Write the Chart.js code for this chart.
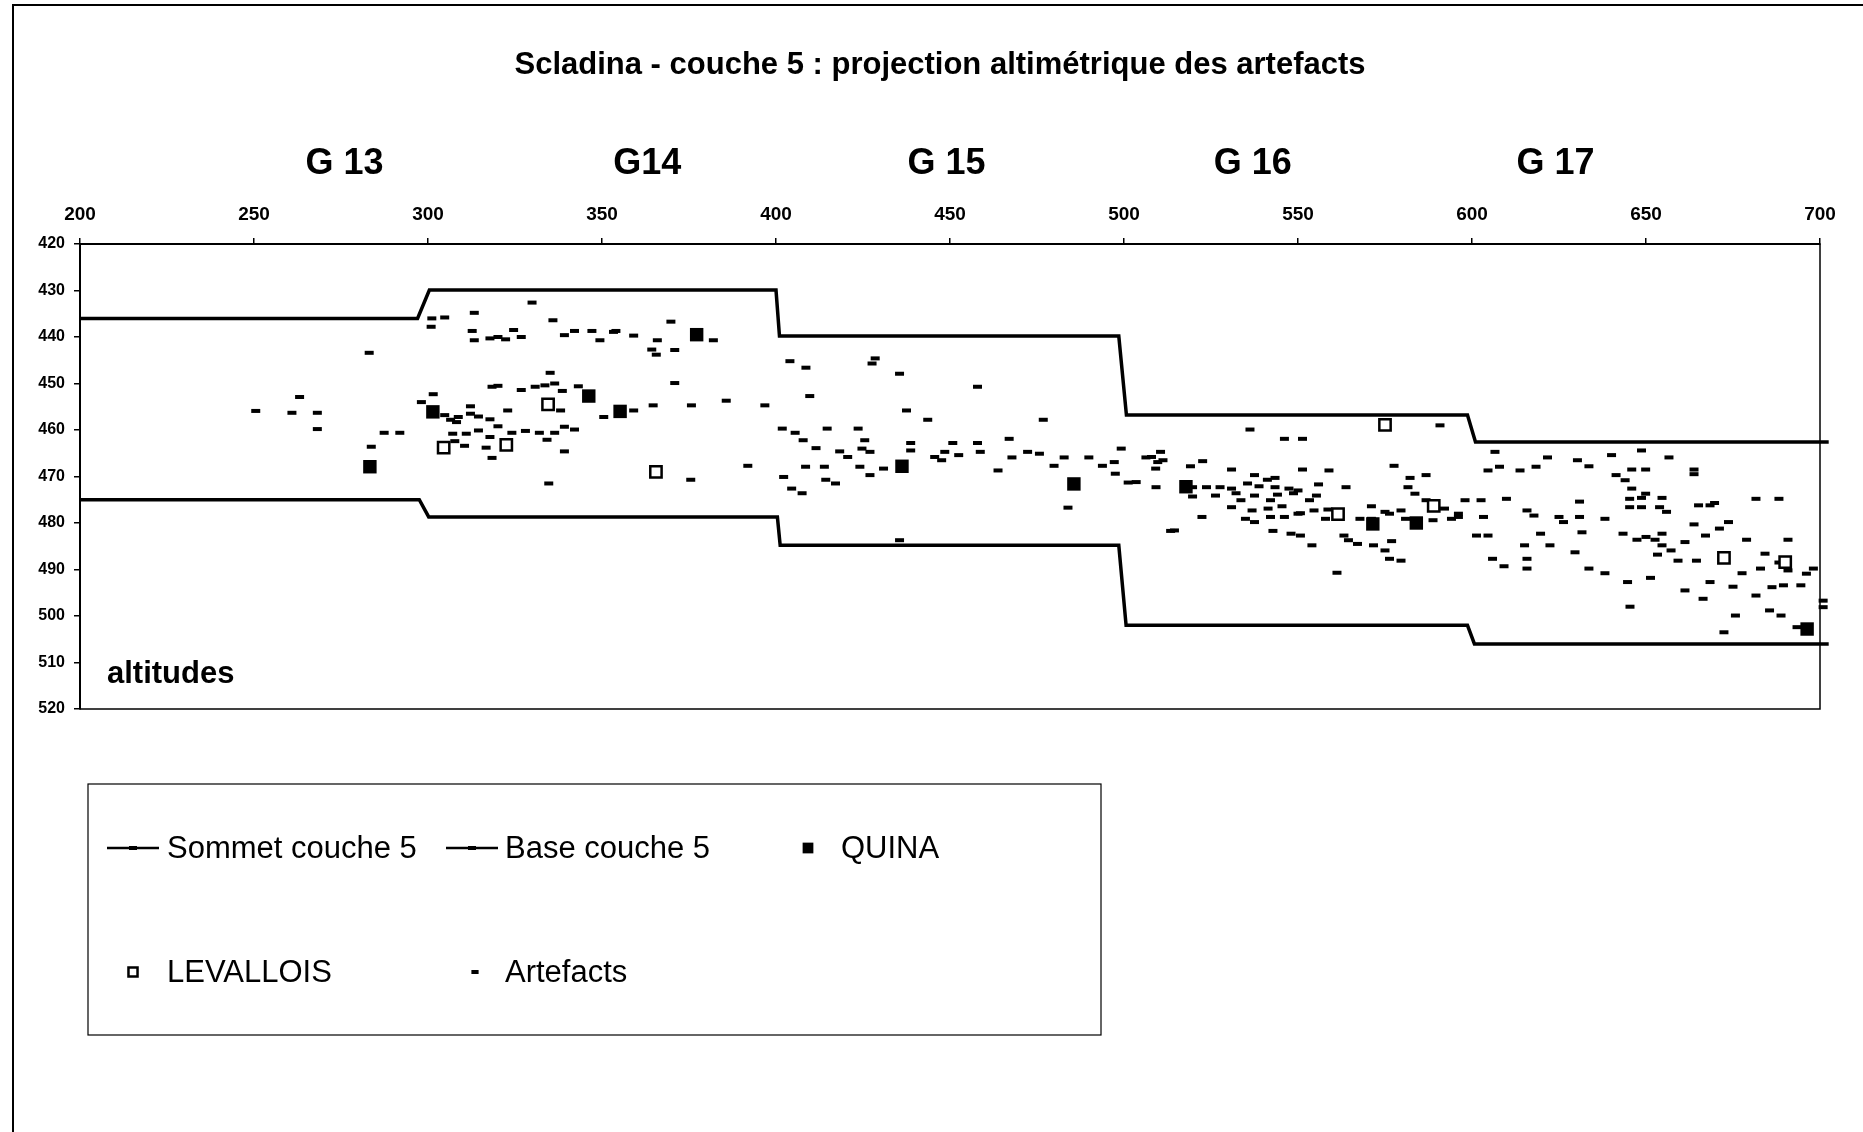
<!DOCTYPE html>
<html>
<head>
<meta charset="utf-8">
<script src="https://cdn.jsdelivr.net/npm/chart.js@4"></script>
<style>
  html, body { margin: 0; padding: 0; background: #fff; }
</style>
</head>
<body>
<canvas id="alt" width="1863" height="1132"></canvas>
<script>
// Scladina, couche 5 : altitudes projected along the X axis
var titre = 'Scladina - couche 5 : projection altimétrique des artefacts';
var carres = ['G 13', 'G14', 'G 15', 'G 16', 'G 17'];
var carresX = [276, 363, 449, 537, 624];
var xTicks = [200, 250, 300, 350, 400, 450, 500, 550, 600, 650, 700];
var yTicks = [420, 430, 440, 450, 460, 470, 480, 490, 500, 510, 520];

// limits of the layer [x, altitude]
var sommet = [[200, 436], [297, 436], [300.4, 429.9], [400, 429.9], [401, 439.8], [498.5, 439.8],
  [500.7, 456.8], [598.7, 456.8], [601, 462.6], [702.5, 462.6]];
var base = [[200, 475], [297.5, 475], [300.2, 478.7], [400.4, 478.7], [401.2, 484.8], [498.5, 484.8],
  [500.6, 502], [598.7, 502], [600.7, 506], [702.5, 506]];

var quina = [[283.3, 467.9], [301.4, 456.1], [346.2, 452.7], [355.2, 456.0], [377.2, 439.5], [436.2, 467.8],
  [485.6, 471.6], [517.8, 472.2], [571.5, 480.2], [584.0, 480.0], [696.3, 502.8]];
var levallois = [[334.5, 454.5], [304.5, 463.8], [322.5, 463.2], [365.5, 469.0], [575.0, 458.9],
  [561.5, 478.1], [589.0, 476.3], [672.4, 487.5], [690.0, 488.4]];
var artefacts = [
  [283.1, 443.4], [250.5, 455.9], [260.9, 456.3], [263.1, 452.9], [268.2, 456.3], [268.2, 459.8], [283.7, 463.6],
  [287.4, 460.6], [291.9, 460.6], [301.1, 436.0], [304.8, 435.8], [300.9, 437.8], [313.3, 434.8], [312.7, 438.7],
  [313.3, 440.7], [317.8, 440.3], [320.1, 440.0], [322.3, 440.5], [324.6, 438.5], [326.8, 440.0], [329.9, 432.6],
  [335.9, 436.4], [339.2, 439.6], [342.1, 438.7], [347.1, 438.7], [349.4, 440.7], [353.3, 438.9],
  [301.5, 452.3], [298.1, 454.0], [304.8, 456.8], [306.5, 457.8], [308.7, 457.2], [308.2, 458.3], [312.2, 454.9],
  [312.2, 456.5], [314.5, 457.1], [307.1, 460.8], [311.0, 460.8], [314.5, 460.1], [307.7, 462.4], [310.5, 463.4],
  [318.4, 450.7], [320.1, 450.5], [317.8, 457.7], [322.9, 455.8], [326.8, 451.4], [330.8, 450.7], [333.6, 450.4],
  [336.4, 450.0], [338.6, 451.6], [335.1, 447.7], [343.2, 450.6], [320.1, 459.2], [324.1, 460.6], [328.0, 460.2],
  [332.0, 460.6], [336.4, 460.6], [339.2, 459.3], [342.1, 459.9], [334.2, 462.1], [317.8, 461.5], [316.7, 463.8],
  [318.4, 466.0], [339.2, 464.6], [334.7, 471.5], [338.1, 455.8], [350.5, 457.2],
  [354.0, 438.7], [359.1, 439.7], [365.9, 440.7], [364.3, 442.7], [365.6, 443.8], [369.8, 436.7], [370.9, 442.8],
  [382.0, 440.7], [370.9, 449.9], [359.1, 455.8], [364.7, 454.7], [375.7, 454.7], [385.7, 453.7], [396.8, 454.7],
  [375.5, 470.7], [391.9, 467.7], [404.0, 445.2], [408.6, 446.6], [409.7, 452.7], [428.5, 444.6], [427.6, 445.7],
  [435.5, 447.9], [457.9, 450.7], [437.5, 455.8], [443.6, 457.8], [476.8, 457.8], [401.8, 459.7], [405.5, 460.6],
  [407.8, 462.2], [411.5, 463.9], [414.7, 459.7], [423.6, 459.7], [425.5, 462.2], [424.7, 464.0], [427.0, 464.7],
  [418.3, 464.6], [420.6, 465.8], [438.7, 462.8], [438.7, 464.4], [450.8, 462.8], [448.5, 464.7], [452.5, 465.4],
  [445.6, 465.8], [447.6, 466.5], [457.9, 462.8], [458.7, 464.7], [467.0, 461.9], [467.8, 465.9], [472.3, 464.7],
  [475.7, 465.1], [482.8, 465.9], [489.9, 465.9], [479.9, 467.7], [463.8, 468.7], [493.8, 467.7], [497.2, 466.9],
  [497.5, 469.4], [499.2, 464.0], [503.5, 471.2], [506.3, 465.9], [509.7, 466.9], [509.1, 468.3], [501.2, 471.3],
  [483.9, 476.7], [513.4, 481.7], [408.5, 467.9], [413.9, 467.9], [424.1, 467.9], [427.0, 469.7], [430.9, 468.3],
  [414.3, 470.7], [417.1, 471.5], [402.2, 470.1], [404.5, 472.6], [407.5, 473.6], [435.5, 483.7],
  [536.2, 459.9], [546.1, 461.9], [551.3, 461.9], [590.8, 459.0], [510.5, 464.7], [511.2, 466.5], [519.1, 467.8],
  [522.6, 466.7], [507.9, 465.8], [530.9, 468.5], [537.5, 469.7], [541.2, 470.7], [543.4, 470.3], [551.3, 468.5],
  [558.9, 468.7], [577.6, 467.7], [582.2, 470.3], [586.8, 469.7], [509.2, 472.3], [519.7, 472.3], [523.7, 472.3],
  [527.6, 472.3], [530.9, 472.6], [535.5, 471.5], [538.8, 472.1], [543.4, 472.3], [547.4, 472.6], [550.0, 473.0],
  [555.9, 471.7], [563.8, 472.3], [581.6, 472.3], [519.7, 474.3], [526.3, 474.1], [532.2, 473.6], [533.6, 475.1],
  [537.5, 474.1], [542.1, 475.1], [544.1, 473.9], [548.7, 473.6], [553.3, 475.1], [555.3, 474.1], [583.6, 473.7],
  [530.9, 476.6], [536.8, 477.3], [541.4, 476.9], [545.4, 476.4], [550.7, 477.9], [554.6, 477.3], [558.6, 477.1],
  [571.1, 476.4], [575.0, 477.6], [579.6, 477.3], [586.8, 475.1], [592.1, 476.9], [596.1, 478.0], [598.0, 475.1],
  [602.6, 475.1], [609.9, 474.8], [522.4, 478.7], [534.9, 479.1], [537.5, 479.8], [542.1, 478.7], [546.1, 478.7],
  [550.0, 478.0], [557.9, 479.1], [567.8, 479.1], [571.1, 479.1], [576.3, 478.0], [580.9, 479.1], [588.8, 479.4],
  [594.1, 479.1], [596.1, 478.7], [603.3, 478.7], [514.5, 481.6], [542.8, 481.7], [548.0, 482.3], [550.7, 482.7],
  [554.0, 484.8], [563.2, 482.7], [564.5, 483.7], [567.1, 484.5], [571.7, 484.8], [575.0, 485.9], [576.9, 483.9],
  [576.3, 487.7], [579.6, 488.1], [561.2, 490.7], [601.3, 482.7], [604.6, 482.7], [605.9, 487.7], [609.2, 489.3],
  [615.8, 487.7], [615.8, 489.8], [615.1, 484.8], [615.8, 477.3], [617.8, 478.4], [619.7, 482.3], [622.4, 484.8],
  [625.0, 478.7], [626.3, 479.8], [630.9, 478.7], [631.6, 482.0], [629.6, 486.3], [630.9, 475.4], [638.2, 479.1],
  [633.6, 489.8], [638.2, 490.8], [644.7, 492.7], [651.3, 491.8], [645.4, 498.0], [643.4, 482.3], [647.4, 483.6],
  [650.0, 483.0], [652.6, 483.6], [654.6, 484.8], [653.3, 486.8], [657.2, 485.9], [654.6, 482.3], [659.2, 488.1],
  [661.2, 484.1], [663.8, 480.3], [664.5, 488.1], [667.1, 482.7], [671.1, 481.2], [673.7, 479.8], [668.4, 476.2],
  [677.6, 490.8], [675.0, 493.7], [668.4, 492.7], [666.4, 496.3], [661.2, 494.5], [678.9, 483.6], [682.9, 489.8],
  [684.2, 486.6], [690.8, 483.6], [688.2, 488.5], [690.8, 490.2], [696.1, 490.9], [698.1, 489.8], [686.2, 493.8],
  [689.5, 493.4], [694.5, 493.4], [681.6, 495.6], [693.4, 502.4], [672.4, 503.5], [675.7, 499.9], [685.5, 498.8],
  [688.8, 499.9], [700.9, 496.7], [700.9, 498.1], [606.6, 464.7], [604.6, 468.7], [607.9, 467.9], [613.8, 468.7],
  [618.4, 467.9], [621.7, 465.9], [630.3, 466.5], [633.6, 467.8], [640.1, 465.4], [648.7, 464.4], [656.6, 465.9],
  [641.4, 469.7], [644.0, 470.8], [645.9, 468.5], [649.9, 468.5], [645.9, 472.6], [649.9, 473.7], [645.3, 474.8],
  [648.7, 474.6], [654.6, 474.6], [645.3, 476.6], [648.7, 476.6], [653.9, 476.6], [655.9, 477.6], [669.7, 475.7],
  [665.1, 476.2], [681.6, 474.8], [688.2, 474.8], [663.8, 468.5], [663.8, 469.5]
];

function pts(arr) {
  return arr.map(function (p) { return { x: p[0], y: p[1] }; });
}

var FONT = '"Liberation Sans", Arial, sans-serif';
var NARROW = '"Liberation Sans Narrow", "Liberation Sans", Arial, sans-serif';

// frame, title, square names, inner label and the boxed legend
var decor = {
  id: 'decor',
  beforeDraw: function (chart) {
    var c = chart.ctx;
    c.save();
    c.fillStyle = '#fff';
    c.fillRect(0, 0, chart.width, chart.height);
    c.restore();
  },
  afterDraw: function (chart) {
    var c = chart.ctx, a = chart.chartArea, xs = chart.scales.x;
    c.save();
    c.strokeStyle = '#000';
    c.lineWidth = 2;
    c.strokeRect(13, 5, 1860, 1140);
    c.lineWidth = 1.5;
    c.strokeRect(a.left, a.top, a.right - a.left, a.bottom - a.top);

    c.fillStyle = '#000';
    c.textAlign = 'center';
    c.textBaseline = 'middle';
    c.font = 'bold 31px ' + FONT;
    c.fillText(titre, 940, 65);
    c.font = 'bold 36px ' + FONT;
    carres.forEach(function (t, i) {
      c.fillText(t, xs.getPixelForValue(carresX[i]), 164);
    });
    c.textAlign = 'left';
    c.font = 'bold 31px ' + FONT;
    c.fillText('altitudes', a.left + 27, a.bottom - 35);

    // legend box
    c.lineWidth = 1.2;
    c.strokeRect(88, 784, 1013, 251);
    var ds = chart.data.datasets;
    var rows = [
      { i: 0, x: 107, y: 848, tx: 167 },
      { i: 1, x: 446, y: 848, tx: 505 },
      { i: 2, x: 808, y: 848, tx: 841 },
      { i: 3, x: 133, y: 972, tx: 167 },
      { i: 4, x: 475, y: 972, tx: 505 }
    ];
    c.font = '31px ' + NARROW;
    rows.forEach(function (r) {
      var d = ds[r.i];
      if (d.showLine) {
        c.strokeStyle = d.borderColor;
        c.lineWidth = 2.5;
        c.beginPath();
        c.moveTo(r.x, r.y);
        c.lineTo(r.x + 52, r.y);
        c.stroke();
        c.lineWidth = 4;
        c.beginPath();
        c.moveTo(r.x + 22, r.y);
        c.lineTo(r.x + 30, r.y);
        c.stroke();
      } else {
        c.strokeStyle = d.borderColor;
        c.fillStyle = d.backgroundColor;
        c.lineWidth = d.borderWidth;
        Chart.helpers.drawPoint(c, {
          pointStyle: d.pointStyle, radius: d.pointRadius * 0.8, borderWidth: d.borderWidth, rotation: 0
        }, r.x, r.y);
      }
      c.fillStyle = '#000';
      c.fillText(d.label, r.tx, r.y + 1);
    });
    c.restore();
  }
};

new Chart(document.getElementById('alt'), {
  type: 'scatter',
  data: {
    datasets: [
      { label: 'Sommet couche 5', data: pts(sommet), showLine: true, borderColor: '#000', borderWidth: 3.5,
        pointRadius: 0, tension: 0, clip: false },
      { label: 'Base couche 5', data: pts(base), showLine: true, borderColor: '#000', borderWidth: 3.5,
        pointRadius: 0, tension: 0, clip: false },
      { label: 'QUINA', data: pts(quina), pointStyle: 'rect', pointRadius: 9.5, borderWidth: 0,
        backgroundColor: '#000', borderColor: '#000' },
      { label: 'LEVALLOIS', data: pts(levallois), pointStyle: 'rect', pointRadius: 8, borderWidth: 2.5,
        backgroundColor: '#fff', borderColor: '#000' },
      { label: 'Artefacts', data: pts(artefacts), pointStyle: 'line', pointRadius: 4.5, borderWidth: 4,
        backgroundColor: '#000', borderColor: '#000', clip: false }
    ]
  },
  options: {
    responsive: false,
    animation: false,
    layout: { padding: { left: 20, right: 43, top: 200, bottom: 423 } },
    plugins: { legend: { display: false }, tooltip: { enabled: false } },
    scales: {
      x: {
        type: 'linear', position: 'top', min: 200, max: 700,
        afterBuildTicks: function (s) { s.ticks = xTicks.map(function (v) { return { value: v }; }); },
        afterFit: function (s) { s.height = 44; },
        ticks: { color: '#000', font: { family: FONT, size: 19, weight: 'bold' }, padding: 12, maxRotation: 0 },
        grid: { drawOnChartArea: false, color: '#000', tickLength: 6, lineWidth: 1.5 },
        border: { color: '#000', width: 2 }
      },
      y: {
        type: 'linear', reverse: true, min: 420, max: 520,
        afterBuildTicks: function (s) { s.ticks = yTicks.map(function (v) { return { value: v }; }); },
        afterFit: function (s) { s.width = 60; },
        ticks: { color: '#000', font: { family: FONT, size: 16, weight: 'bold' }, padding: 9 },
        grid: { drawOnChartArea: false, color: '#000', tickLength: 6, lineWidth: 1.5 },
        border: { color: '#000', width: 2 }
      }
    }
  },
  plugins: [decor]
});
</script>
</body>
</html>
